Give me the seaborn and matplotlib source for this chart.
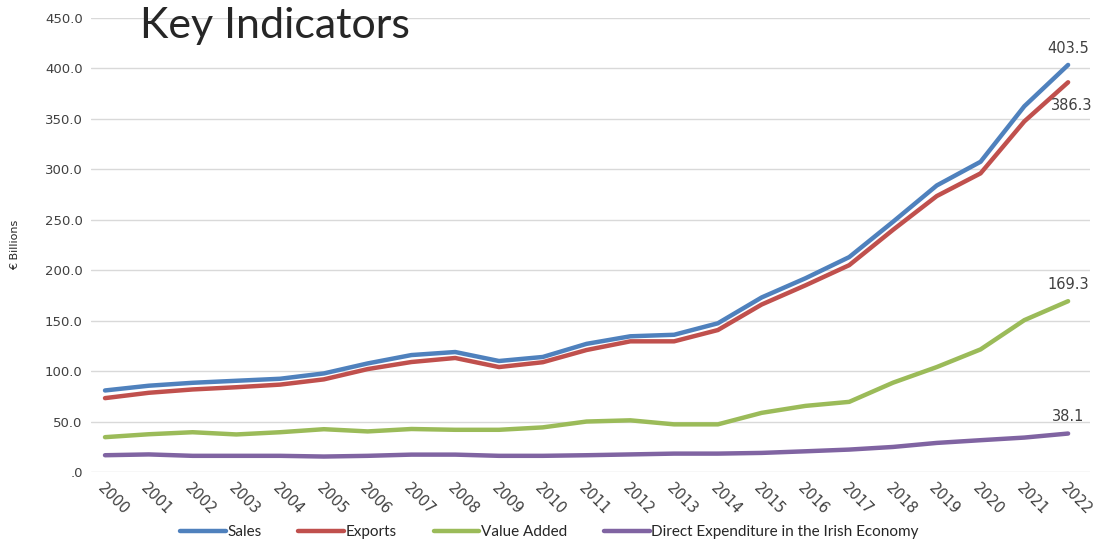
import numpy as np
import pandas as pd
import matplotlib; matplotlib.use('Agg')
import matplotlib.pyplot as plt
import matplotlib.transforms as mtransforms
import seaborn as sns

# Data (EUR billions)
years = list(range(2000, 2023))
sales = [80.8, 85.5, 88.4, 90.4, 92.4, 97.7, 107.6, 115.9, 118.9, 110.0, 114.0,
         127.0, 134.5, 136.0, 147.4, 173.0, 192.0, 213.0, 248.0, 284.0, 307.5, 362.5, 403.5]
exports = [73.2, 78.5, 81.8, 84.0, 86.6, 91.8, 102.0, 109.0, 113.0, 104.0, 108.8,
           120.9, 129.5, 129.5, 140.7, 166.0, 185.0, 205.0, 240.0, 273.5, 296.0, 347.5, 386.3]
value_added = [34.5, 37.4, 39.4, 37.2, 39.4, 42.4, 40.2, 42.6, 41.8, 41.8, 44.2,
               50.0, 51.2, 47.2, 47.2, 58.6, 65.5, 69.5, 88.5, 104.0, 121.5, 150.5, 169.3]
direct_exp = [16.6, 17.4, 16.0, 16.0, 16.0, 15.3, 16.0, 17.2, 17.2, 16.0, 16.0,
              16.6, 17.4, 18.2, 18.2, 18.9, 20.5, 22.2, 24.8, 28.8, 31.5, 34.1, 38.1]
series_names = ["Sales", "Exports", "Value Added", "Direct Expenditure in the Irish Economy"]
series_colors = ["#4f81bd", "#c0504d", "#9bbb59", "#8064a2"]
end_labels = ["403.5", "386.3", "169.3", "38.1"]
y_ticks = [0, 50, 100, 150, 200, 250, 300, 350, 400, 450]
y_tick_labels = [".0", "50.0", "100.0", "150.0", "200.0", "250.0", "300.0", "350.0", "400.0", "450.0"]

df = pd.DataFrame({"Year": years, series_names[0]: sales, series_names[1]: exports,
                   series_names[2]: value_added, series_names[3]: direct_exp})
long_df = df.melt(id_vars="Year", var_name="Series", value_name="Value")

sns.set_style("white")
plt.rcParams['font.family'] = ['DejaVu Sans']

fig = plt.figure(figsize=(10.99, 5.44), dpi=100)
ax = fig.add_axes([0.0828, 0.1324, 0.909, 0.8345])

sns.lineplot(data=long_df, x="Year", y="Value", hue="Series", hue_order=series_names,
             palette=series_colors, linewidth=3.2, ax=ax, legend=False)

ax.set_xlim(1999.68, 2022.5)
ax.set_ylim(0, 450)
ax.set_yticks(y_ticks)
ax.set_yticklabels(y_tick_labels, fontsize=9.5, color="#404040")
ax.set_xticks(years)
ax.set_xticklabels([str(y) for y in years], fontsize=10.5, color="#404040",
                   rotation=-45, ha="left", va="top", rotation_mode="anchor")
shift = mtransforms.ScaledTranslation(-9 / 72, -2 / 72, fig.dpi_scale_trans)
for lbl in ax.get_xticklabels():
    lbl.set_transform(lbl.get_transform() + shift)
ax.tick_params(length=0, pad=6)
ax.grid(axis="y", color="#d9d9d9", linewidth=1)
ax.set_axisbelow(True)
for s in ax.spines.values():
    s.set_visible(False)
ax.set_xlabel("")
ax.set_ylabel("€ Billions", fontsize=8, family="Liberation Sans Narrow", labelpad=18)

# end-point value labels
last = [sales[-1], exports[-1], value_added[-1], direct_exp[-1]]
offsets = [(0, 12), (-12, -17), (0, 12), (0, 12)]
aligns = ["center", "left", "center", "center"]
for v, txt, (dx, dy), ha in zip(last, end_labels, offsets, aligns):
    ax.annotate(txt, (years[-1], v), xytext=(dx, dy), textcoords="offset points",
                ha=ha, va="center", fontsize=10.5, color="#404040")

fig.text(0.127, 0.952, "Key Indicators", fontsize=31, family="Lato", va="center", ha="left")

handles = [plt.Line2D([0], [0], color=c, linewidth=3.2) for c in series_colors]
fig.legend(handles, series_names, loc="center", bbox_to_anchor=(0.5, 0.022), ncol=4,
           frameon=False, prop={"family": "Lato", "size": 11}, handlelength=3.0,
           handletextpad=0.1, columnspacing=2.4)

plt.savefig("out.png", dpi=100)
